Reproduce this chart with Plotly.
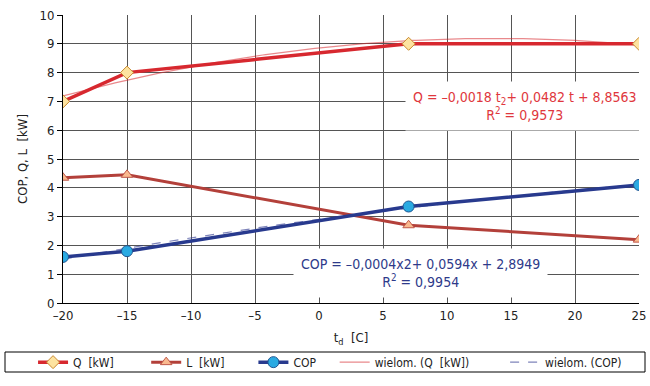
import numpy as np
import plotly.graph_objects as go

# ---- data ----
t_d = [-20, -15, 7, 25]
q_kw = [7.0, 8.0, 9.0, 9.0]
l_kw = [4.35, 4.45, 2.7, 2.2]
cop = [1.6, 1.8, 3.35, 4.1]
x_ticks = [-20, -15, -10, -5, 0, 5, 10, 15, 20, 25]
y_ticks = list(range(0, 11))

FONT = "DejaVu Sans Condensed, Liberation Sans Narrow, sans-serif"
NB = "\u00a0"

# polynomial trend lines (2nd degree), fitted to the data
tt = np.linspace(min(t_d), max(t_d), 200)
q_fit = np.polyval(np.polyfit(t_d, q_kw, 2), tt)
cop_fit = np.polyval(np.polyfit(t_d, cop, 2), tt)

fig = go.Figure()

fig.add_trace(go.Scatter(
    x=tt, y=q_fit, mode="lines", name="wielom. (Q" + NB * 2 + "[kW])" + NB * 9,
    line=dict(color="rgba(215,40,45,0.55)", width=1.2), legendrank=4))
fig.add_trace(go.Scatter(
    x=tt, y=cop_fit, mode="lines", name="wielom. (COP)",
    line=dict(color="rgba(40,50,140,0.6)", width=1.2, dash="dash"), legendrank=5))

fig.add_trace(go.Scatter(
    x=t_d, y=q_kw, mode="lines+markers", name="Q" + NB * 2 + "[kW]" + NB * 8,
    line=dict(color="#d7282f", width=3.5),
    marker=dict(symbol="diamond", size=10, color="#fde3a0",
                line=dict(color="#c9892f", width=1)), legendrank=1))
fig.add_trace(go.Scatter(
    x=t_d, y=l_kw, mode="lines+markers", name="L" + NB * 2 + "[kW]" + NB * 7,
    line=dict(color="#b3403a", width=3),
    marker=dict(symbol="triangle-up", size=10, color="#f9b98f",
                line=dict(color="#c0584a", width=1)), legendrank=2))
fig.add_trace(go.Scatter(
    x=t_d, y=cop, mode="lines+markers", name="COP" + NB * 4,
    line=dict(color="#283a8e", width=3.5),
    marker=dict(symbol="circle", size=11, color="#2aaae2",
                line=dict(color="#1e5592", width=1)), legendrank=3))

fig.add_annotation(
    x=16.1, y=6.85, xref="x", yref="y",
    text="Q = \u20130,0018 t<sub>2</sub>+ 0,0482 t + 8,8563<br>R<sup>2</sup> = 0,9573",
    showarrow=False, bgcolor="white", borderpad=7,
    font=dict(family=FONT, size=14, color="#e0373d"))
fig.add_annotation(
    x=7.9, y=1.05, xref="x", yref="y",
    text="COP = \u20130,0004x2+ 0,0594x + 2,8949<br>R<sup>2</sup> = 0,9954",
    showarrow=False, bgcolor="white", borderpad=7,
    font=dict(family=FONT, size=14, color="#2e3a8a"))

# legend frame
fig.add_shape(type="rect", xref="paper", yref="paper",
              x0=(5 - 63) / 576, x1=(645 - 63) / 576,
              y0=(303 - 372) / 288, y1=(303 - 352) / 288,
              line=dict(color="black", width=1), fillcolor="rgba(0,0,0,0)")

fig.update_layout(
    width=650, height=386,
    margin=dict(l=63, r=11, t=15, b=83, autoexpand=False),
    paper_bgcolor="white", plot_bgcolor="white",
    font=dict(family=FONT, size=13, color="#222"),
    showlegend=True,
    legend=dict(orientation="h", x=-0.052, xanchor="left", y=-0.155, yanchor="top",
                font=dict(family=FONT, size=12, color="#222"),
                bgcolor="rgba(0,0,0,0)", borderwidth=0, itemwidth=30,
                traceorder="normal"),
)
fig.update_xaxes(
    range=[-20, 25], tickvals=x_ticks,
    ticktext=[("\u2013" + str(-v)) if v < 0 else str(v) for v in x_ticks],
    showgrid=True, gridcolor="#555", gridwidth=1,
    showline=True, linecolor="black", linewidth=1,
    zeroline=False, ticks="", tickfont=dict(size=13),
    title=dict(text="t<sub>d</sub>" + NB * 2 + "[C]", standoff=11, font=dict(size=13)),
)
fig.update_yaxes(
    range=[0, 10], tickvals=y_ticks,
    showgrid=True, gridcolor="#555", gridwidth=1,
    showline=True, linecolor="black", linewidth=1,
    zeroline=False, ticks="outside", ticklen=5, tickcolor="black",
    tickfont=dict(size=13),
    title=dict(text="COP, Q, L" + NB * 2 + "[kW]", standoff=8, font=dict(size=13)),
)

fig.write_html("out.html")
